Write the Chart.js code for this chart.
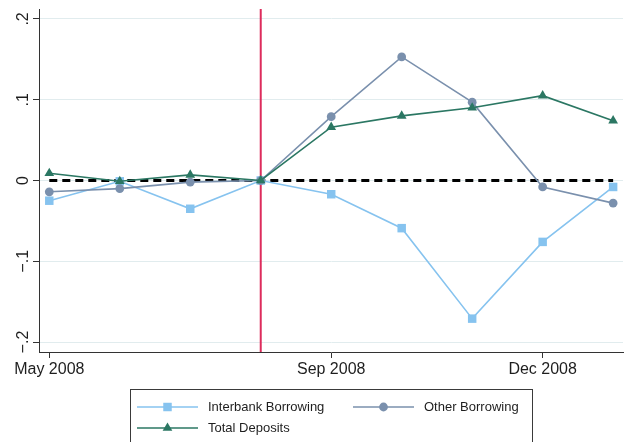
<!DOCTYPE html>
<html>
<head>
<meta charset="utf-8">
<script src="https://cdn.jsdelivr.net/npm/chart.js@4/dist/chart.umd.min.js"></script>
<style>
  html, body { margin: 0; padding: 0; background: #ffffff; }
  #wrap { width: 629px; height: 442px; }
</style>
</head>
<body>
<div id="wrap"><canvas id="chart" width="629" height="442"></canvas></div>
<script>
// Monthly periods, May 2008 – Jan 2009
const months = ['May 2008', 'Jun 2008', 'Jul 2008', 'Aug 2008', 'Sep 2008', 'Oct 2008', 'Nov 2008', 'Dec 2008', 'Jan 2009'];
// Which months carry an x-axis label
const xTickIndex = [0, 4, 7];
// Y-axis tick values and their labels
const yTickValues = [-0.2, -0.1, 0, 0.1, 0.2];
const yTickLabels = ['\u2212.2', '\u2212.1', '0', '.1', '.2'];
// Month of the event marker (Aug 2008)
const eventIndex = 3;

// Series
const interbankBorrowing = [-0.025, -0.001, -0.035, 0, -0.017, -0.059, -0.171, -0.076, -0.008];
const otherBorrowing     = [-0.014, -0.010, -0.002, 0,  0.079,  0.153,  0.097, -0.008, -0.028];
const totalDeposits      = [ 0.009, -0.001,  0.007, 0,  0.066,  0.080,  0.090,  0.105,  0.074];
const zeroLine           = [0, 0, 0, 0, 0, 0, 0, 0, 0];

const FONT = "'Liberation Sans', Arial, Helvetica, sans-serif";
const AXIS_COLOR = '#333333';
const TEXT_COLOR = '#1e1e1e';

const toXY = arr => arr.map((v, i) => ({ x: i, y: v }));

// Vertical event line, drawn under the series
const eventLine = {
  id: 'eventLine',
  beforeDatasetsDraw(chart) {
    const { ctx, chartArea, scales } = chart;
    const x = scales.x.getPixelForValue(eventIndex);
    ctx.save();
    ctx.strokeStyle = '#dd2c5c';
    ctx.lineWidth = 2;
    ctx.beginPath();
    ctx.moveTo(x, chartArea.top);
    ctx.lineTo(x, chartArea.bottom);
    ctx.stroke();
    ctx.restore();
  }
};

// Rotated y tick labels
const yLabels = {
  id: 'yLabels',
  afterDraw(chart) {
    const { ctx, scales } = chart;
    ctx.save();
    ctx.fillStyle = TEXT_COLOR;
    ctx.font = '16px ' + FONT;
    ctx.textAlign = 'center';
    ctx.textBaseline = 'alphabetic';
    yTickValues.forEach((v, i) => {
      const y = scales.y.getPixelForValue(v);
      ctx.save();
      ctx.translate(28, y);
      ctx.rotate(-Math.PI / 2);
      ctx.fillText(yTickLabels[i], 0, 0);
      ctx.restore();
    });
    ctx.restore();
  }
};

// Boxed legend below the axis
const boxLegend = {
  id: 'boxLegend',
  afterDraw(chart) {
    const { ctx } = chart;
    const ds = chart.data.datasets;
    const box = { x: 130.5, y: 389.5, w: 402, h: 60 };
    const slots = [
      { col: 137, row: 407 },
      { col: 353, row: 407 },
      { col: 137, row: 428 }
    ];
    ctx.save();
    ctx.fillStyle = '#ffffff';
    ctx.fillRect(box.x, box.y, box.w, box.h);
    ctx.strokeStyle = '#3a3a3a';
    ctx.lineWidth = 1;
    ctx.strokeRect(box.x, box.y, box.w, box.h);
    ds.filter(d => d.inLegend).forEach((d, i) => {
      const s = slots[i];
      ctx.strokeStyle = d.borderColor;
      ctx.lineWidth = d.borderWidth;
      ctx.beginPath();
      ctx.moveTo(s.col, s.row);
      ctx.lineTo(s.col + 61, s.row);
      ctx.stroke();
      ctx.fillStyle = d.pointBackgroundColor;
      ctx.strokeStyle = d.pointBackgroundColor;
      Chart.helpers.drawPoint(ctx, {
        pointStyle: d.pointStyle,
        radius: d.pointRadius,
        borderWidth: 0,
        rotation: 0
      }, s.col + 30.5, s.row);
      ctx.fillStyle = TEXT_COLOR;
      ctx.font = '13px ' + FONT;
      ctx.textAlign = 'left';
      ctx.textBaseline = 'middle';
      ctx.fillText(d.label, s.col + 71, s.row);
    });
    ctx.restore();
  }
};

function series(label, data, color, style, radius, order) {
  return {
    label, data: toXY(data), inLegend: true, order,
    borderColor: color, backgroundColor: color,
    pointBackgroundColor: color, pointBorderColor: color, pointBorderWidth: 0,
    pointStyle: style, pointRadius: radius, pointHoverRadius: radius,
    borderWidth: 1.6, tension: 0, fill: false
  };
}

const datasets = [
  series('Interbank Borrowing', interbankBorrowing, '#86c3ef', 'rect', 6, 3),
  series('Other Borrowing', otherBorrowing, '#7a90ad', 'circle', 4.4, 2),
  series('Total Deposits', totalDeposits, '#2b7763', 'triangle', 5.6, 1),
  {
    label: 'zero', data: toXY(zeroLine), inLegend: false, order: 10,
    borderColor: '#000000', borderWidth: 3, borderDash: [8, 5],
    pointRadius: 0, pointHoverRadius: 0, fill: false
  }
];

new Chart(document.getElementById('chart'), {
  type: 'line',
  data: { datasets },
  options: {
    responsive: false,
    animation: false,
    events: [],
    layout: { padding: { top: 9, right: 6, left: 0, bottom: 0 } },
    plugins: { legend: { display: false }, tooltip: { enabled: false } },
    scales: {
      x: {
        type: 'linear',
        min: -0.146,
        max: 8.14,
        afterBuildTicks: s => { s.ticks = xTickIndex.map(v => ({ value: v })); },
        afterFit: s => { s.height = 90; },
        ticks: {
          autoSkip: false, maxRotation: 0, minRotation: 0, padding: 2,
          color: TEXT_COLOR, font: { family: FONT, size: 16 },
          callback: v => months[v]
        },
        grid: { drawOnChartArea: false, drawTicks: true, tickLength: 6, tickColor: AXIS_COLOR, tickWidth: 1 },
        border: { display: true, color: AXIS_COLOR, width: 1 }
      },
      y: {
        type: 'linear',
        min: -0.2123,
        max: 0.2123,
        afterBuildTicks: s => { s.ticks = yTickValues.map(v => ({ value: v })); },
        afterFit: s => { s.width = 39; },
        ticks: { display: false },
        grid: { color: '#e1ecee', lineWidth: 1, drawTicks: true, tickLength: 6, tickColor: AXIS_COLOR, tickWidth: 1 },
        border: { display: true, color: AXIS_COLOR, width: 1 }
      }
    }
  },
  plugins: [eventLine, yLabels, boxLegend]
});
</script>
</body>
</html>
